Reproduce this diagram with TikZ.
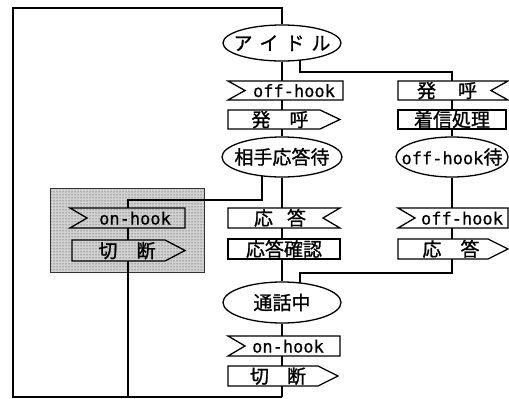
\documentclass[tikz,border=0pt]{standalone}
\usepackage{fontspec}
\newfontfamily\jpfont{Noto Sans CJK JP}[FakeBold=1.1]
\newfontfamily\monofont{DejaVu Sans Mono}[FakeBold=0.6]
\usetikzlibrary{shapes.geometric,backgrounds,patterns}
\newcommand\sdlInL[1]{\draw[sym] (#1.north west) -- (#1.north east) -- (#1.south east) -- (#1.south west) -- ([xshift=17pt]#1.west) -- cycle;}
\newcommand\sdlInR[1]{\draw[sym] (#1.north west) -- (#1.north east) -- ([xshift=-17pt]#1.east) -- (#1.south east) -- (#1.south west) -- cycle;}
\newcommand\sdlOut[1]{\draw[sym] (#1.north west) -- ([xshift=-20pt]#1.north east) -- (#1.east) -- ([xshift=-20pt]#1.south east) -- (#1.south west) -- cycle;}
\newcommand\sdlTask[1]{\draw[sym] (#1.north west) rectangle (#1.south east);}
\begin{document}
\begin{tikzpicture}[x=1pt,y=-1pt,
  sym/.style={draw, line width=1.3pt, line join=miter},
  box/.style={rectangle, inner sep=0pt, outer sep=0pt},
  st/.style={ellipse, draw, line width=1.3pt, inner sep=0pt, fill=white},
  jp/.style={inner sep=0pt, font=\jpfont\fontsize{19}{19}\selectfont, text height=14.4pt, text depth=0pt},
  lat/.style={inner sep=0pt, font=\monofont\fontsize{17}{17}\selectfont, text height=13pt, text depth=0pt},
  line/.style={line width=1.1pt},
  shadebox/.style={rectangle, draw=black!80, line width=0.6pt, preaction={fill=gray!35}, pattern=dots, pattern color=black!85, inner sep=0pt}
]
\useasboundingbox (0,0) rectangle (509,399);
\begin{scope}[on background layer]
\node[shadebox, minimum width=154pt, minimum height=84pt] (sh) at (127,230) {};
\end{scope}
% column coordinates
\coordinate (cM) at (282,0);
\coordinate (cR) at (452,0);
\coordinate (cL) at (128,0);
\coordinate (tl) at (13,8);
\coordinate (bl) at (13,397);
\coordinate (bm) at (282,397);
\coordinate (bs) at (128,397);
\coordinate (j1) at (300,72);
\coordinate (j2) at (300,273);
\coordinate (j3) at (262,200);
% main column
\node[st, minimum width=118pt, minimum height=36pt] (idle) at (282,43) {};
\node[jp] (tidle) at (282,43) {ア\hspace{7pt}イ\hspace{7pt}ド\hspace{7pt}ル};
\node[box, minimum width=115pt, minimum height=19pt] (oh1) at (285.5,90.5) {};
\node[lat] (toh1) at (294,90.5) {off-hook};
\node[box, minimum width=112pt, minimum height=19pt] (call1) at (284,119.5) {};
\node[jp] (tcall1) at (280,119.5) {発\hspace{19pt}呼};
\node[st, minimum width=120pt, minimum height=40pt] (wait1) at (282,157) {};
\node[jp] (twait1) at (282,157) {相手応答待};
\node[box, minimum width=112pt, minimum height=20pt] (ans1) at (284,218) {};
\node[jp] (tans1) at (280,218) {応\hspace{14pt}答};
\node[box, minimum width=112pt, minimum height=20pt] (conf) at (284,249) {};
\node[jp] (tconf) at (284,249) {応答確認};
\node[st, minimum width=118pt, minimum height=41pt] (talk) at (282,302.5) {};
\node[jp] (ttalk) at (282,302.5) {通話中};
\node[box, minimum width=112pt, minimum height=20pt] (onh1) at (284,346) {};
\node[lat] (tonh1) at (288,346) {on-hook};
\node[box, minimum width=110pt, minimum height=20pt] (disc1) at (283,376) {};
\node[jp] (tdisc1) at (278,376) {切\hspace{18pt}断};
% right column
\node[box, minimum width=110pt, minimum height=19pt] (rin1) at (453,90.5) {};
\node[jp] (trin1) at (447,90.5) {発\hspace{22pt}呼};
\node[box, minimum width=108pt, minimum height=19pt] (proc) at (452,119.5) {};
\node[jp] (tproc) at (452,119.5) {着信処理};
\node[st, minimum width=112pt, minimum height=40pt] (wait2) at (452,157) {};
\node[inner sep=0pt, text height=14.4pt, text depth=0pt] (twait2) at (452,157) {\monofont\fontsize{17}{17}\selectfont off-hook\jpfont\fontsize{19}{19}\selectfont 待};
\node[box, minimum width=110pt, minimum height=20pt] (oh2) at (453,218) {};
\node[lat] (toh2) at (462,218) {off-hook};
\node[box, minimum width=110pt, minimum height=20pt] (ans2) at (453,249) {};
\node[jp] (tans2) at (451,249) {応\hspace{19pt}答};
% left shaded column
\node[box, minimum width=115pt, minimum height=20pt] (onh2) at (127.5,218) {};
\node[lat] (tonh2) at (135,218) {on-hook};
\node[box, minimum width=113pt, minimum height=21pt] (disc2) at (128.5,250.5) {};
\node[jp] (tdisc2) at (127,250.5) {切\hspace{19pt}断};
% symbol outlines
\sdlInL{oh1}
\sdlOut{call1}
\sdlInR{ans1}
\sdlTask{conf}
\sdlInL{onh1}
\sdlOut{disc1}
\sdlInR{rin1}
\sdlTask{proc}
\sdlInL{oh2}
\sdlOut{ans2}
\sdlInL{onh2}
\sdlOut{disc2}
% connectors
\begin{scope}[on background layer]
\draw[line] (idle.north) |- (tl) -- (bl) -- (bm);
\draw[line] (idle.south) -- (oh1.north -| cM);
\draw[line] (oh1.south -| cM) -- (call1.north -| cM);
\draw[line] (call1.south -| cM) -- (wait1.north);
\draw[line] (wait1.south) -- (ans1.north -| cM);
\draw[line] (ans1.south -| cM) -- (conf.north -| cM);
\draw[line] (conf.south -| cM) -- (talk.north);
\draw[line] (talk.south) -- (onh1.north -| cM);
\draw[line] (onh1.south -| cM) -- (disc1.north -| cM);
\draw[line] (disc1.south -| cM) -- (bm);
\draw[line] ([xshift=18pt]idle.center) -- (j1) -| (rin1.north -| cR);
\draw[line] (rin1.south -| cR) -- (proc.north -| cR);
\draw[line] (proc.south -| cR) -- (wait2.north);
\draw[line] (wait2.south) -- (oh2.north -| cR);
\draw[line] (oh2.south -| cR) -- (ans2.north -| cR);
\draw[line] (ans2.south -| cR) |- (j2) -- ([xshift=18pt]talk.center);
\draw[line] ([xshift=-20pt]wait1.center) -- (j3) -| (onh2.north -| cL);
\draw[line] (onh2.south -| cL) -- (disc2.north -| cL);
\draw[line] (disc2.south -| cL) -- (bs);
\end{scope}
\end{tikzpicture}
\end{document}
